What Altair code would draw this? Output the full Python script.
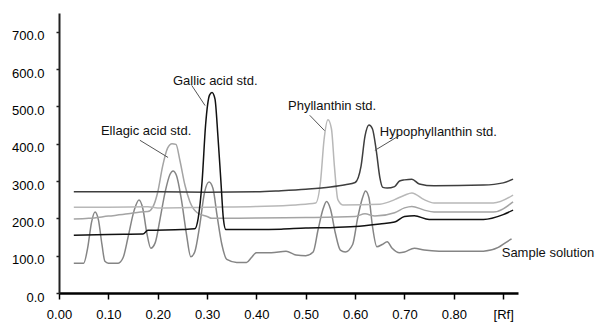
import altair as alt
import pandas as pd

# ---------------- axis ticks ----------------
x_ticks = [0.0, 0.1, 0.2, 0.3, 0.4, 0.5, 0.6, 0.7, 0.8, 0.9]
x_tick_labels = ["0.00", "0.10", "0.20", "0.30", "0.40", "0.50", "0.60", "0.70", "0.80", "[Rf]"]
y_ticks = [0, 100, 200, 300, 400, 500, 600, 700]

# ---------------- series (Rf, signal) ----------------
hypo_rf = [0.03, 0.10, 0.20, 0.30, 0.40, 0.45, 0.50, 0.55, 0.58, 0.60, 0.612, 0.62, 0.628, 0.635,
           0.643, 0.65, 0.656, 0.665, 0.68, 0.69, 0.70, 0.715, 0.73, 0.76, 0.86, 0.90, 0.92]
hypo_val = [271, 271, 271, 270, 271, 274, 278, 284, 290, 296, 340, 420, 450, 440,
            380, 310, 283, 281, 285, 300, 303, 305, 292, 287, 289, 295, 305]

phyl_rf = [0.03, 0.10, 0.18, 0.20, 0.30, 0.40, 0.48, 0.52, 0.53, 0.537, 0.545, 0.552, 0.558,
           0.565, 0.575, 0.65, 0.68, 0.70, 0.715, 0.74, 0.76, 0.88, 0.92]
phyl_val = [230, 230, 231, 228, 230, 232, 236, 241, 300, 410, 464, 440, 340,
            250, 236, 238, 250, 262, 268, 250, 241, 241, 262]

ella_rf = [0.03, 0.06, 0.10, 0.14, 0.165, 0.18, 0.19, 0.20, 0.21, 0.22, 0.229, 0.237, 0.245,
           0.255, 0.265, 0.28, 0.30, 0.31, 0.40, 0.50, 0.60, 0.62, 0.64, 0.68, 0.70, 0.715,
           0.74, 0.76, 0.88, 0.92]
ella_val = [198, 200, 206, 212, 217, 218, 230, 270, 340, 388, 400, 398, 355,
            290, 245, 215, 205, 200, 201, 202, 205, 212, 206, 215, 228, 232,
            222, 217, 217, 244]

gall_rf = [0.03, 0.10, 0.17, 0.18, 0.25, 0.275, 0.282, 0.29, 0.297, 0.305, 0.31, 0.316,
           0.322, 0.328, 0.333, 0.338, 0.40, 0.45, 0.50, 0.55, 0.60, 0.65, 0.68, 0.70,
           0.72, 0.75, 0.86, 0.90, 0.92]
gall_val = [155, 157, 158, 168, 170, 172, 200, 300, 450, 530, 537, 520,
            420, 300, 200, 170, 170, 171, 174, 175, 178, 185, 190, 205,
            207, 197, 197, 210, 222]

samp_rf = [0.03, 0.05, 0.058, 0.066, 0.073, 0.08, 0.087, 0.093, 0.10, 0.12, 0.13, 0.14,
           0.152, 0.162, 0.17, 0.178, 0.186, 0.195, 0.205, 0.215, 0.225, 0.231, 0.238,
           0.248, 0.258, 0.267, 0.275, 0.285, 0.295, 0.304, 0.312, 0.32, 0.33, 0.34,
           0.36, 0.38, 0.39, 0.40, 0.43, 0.46, 0.48, 0.50, 0.515, 0.525, 0.535, 0.542,
           0.55, 0.56, 0.57, 0.58, 0.595, 0.605, 0.615, 0.621, 0.628, 0.635, 0.644,
           0.655, 0.665, 0.675, 0.69, 0.70, 0.72, 0.74, 0.77, 0.86, 0.89, 0.905, 0.917]
samp_val = [80, 80, 120, 190, 217, 195, 130, 85, 80, 80, 95, 150,
            220, 249, 225, 160, 120, 135, 200, 270, 318, 327, 315,
            250, 160, 97, 110, 180, 270, 297, 280, 210, 130, 90,
            82, 82, 95, 108, 108, 112, 102, 100, 110, 170, 225, 245,
            225, 160, 115, 110, 130, 200, 255, 273, 255, 180, 124,
            130, 137, 120, 108, 110, 120, 115, 112, 112, 122, 135, 145]

series_names = ["Sample solution", "Ellagic acid std.", "Phyllanthin std.",
                "Hypophyllanthin std.", "Gallic acid std."]
series_rf = [samp_rf, ella_rf, phyl_rf, hypo_rf, gall_rf]
series_val = [samp_val, ella_val, phyl_val, hypo_val, gall_val]
series_colors = ["#858585", "#a4a4a4", "#b8b8b8", "#3e3e3e", "#111111"]
series_widths = [1.5, 1.5, 1.5, 2.2, 1.5]

# ---------------- annotations ----------------
label_texts = ["Gallic acid std.", "Ellagic acid std.", "Phyllanthin std.",
               "Hypophyllanthin std.", "Sample solution"]
label_rf = [0.231, 0.085, 0.464, 0.650, 0.897]
label_val = [568, 433, 500, 430, 107]

leader_rf1 = [0.269, 0.164, 0.508, 0.640]
leader_val1 = [556, 409, 476, 382]
leader_rf2 = [0.296, 0.221, 0.538, 0.690]
leader_val2 = [502, 363, 435, 422]

rows = []
for k, (name, rfs, vals) in enumerate(zip(series_names, series_rf, series_val)):
    for i, (r, v) in enumerate(zip(rfs, vals)):
        rows.append({"series": name, "rf": r, "value": v, "k": k, "i": i})
df = pd.DataFrame(rows)

labels_df = pd.DataFrame({"text": label_texts, "rf": label_rf, "value": label_val})
leaders_df = pd.DataFrame({"rf": leader_rf1, "value": leader_val1,
                           "rf2": leader_rf2, "value2": leader_val2})

tick_font = "Liberation Sans"
label_expr = "[" + ",".join("'" + t + "'" for t in x_tick_labels) + "][round(datum.value*10)]"

xscale = alt.Scale(domain=[0, 0.93], nice=False, zero=False)
yscale = alt.Scale(domain=[0, 750], nice=False, zero=False)

x_axis = alt.Axis(values=x_ticks, labelExpr=label_expr, grid=False, title=None,
                  domainColor="#000", domainWidth=2.5, tickColor="#000", tickWidth=1.5,
                  tickSize=6, labelFont=tick_font, labelFontSize=13, labelColor="#000",
                  labelPadding=9, labelFlush=False, labelOverlap=False)
y_axis = alt.Axis(values=y_ticks, format=".1f", grid=False, title=None,
                  domainColor="#222", domainWidth=2, tickColor="#222", tickWidth=1.5,
                  tickSize=3, labelFont=tick_font, labelFontSize=13, labelColor="#000",
                  labelPadding=12, labelOffset=4, labelOverlap=False, labelFlush=False)

lines = alt.Chart(df).mark_line(clip=False, interpolate="monotone").encode(
    x=alt.X("rf:Q", scale=xscale, axis=x_axis),
    y=alt.Y("value:Q", scale=yscale, axis=y_axis),
    color=alt.Color("series:N", scale=alt.Scale(domain=series_names, range=series_colors), legend=None),
    strokeWidth=alt.StrokeWidth("series:N", scale=alt.Scale(domain=series_names, range=series_widths), legend=None),
    order=alt.Order("i:Q"),
)

leaders = alt.Chart(leaders_df).mark_rule(color="#555", strokeWidth=1).encode(
    x=alt.X("rf:Q", scale=xscale, axis=x_axis), y=alt.Y("value:Q", scale=yscale, axis=y_axis),
    x2="rf2:Q", y2="value2:Q",
)

texts = alt.Chart(labels_df).mark_text(align="left", baseline="middle",
                                       font="Liberation Sans",
                                       fontSize=13, color="#111").encode(
    x=alt.X("rf:Q", scale=xscale, axis=x_axis), y=alt.Y("value:Q", scale=yscale, axis=y_axis),
    text="text:N",
)

chart = alt.layer(lines, leaders, texts).properties(
    width=459, height=280, autosize="none",
    padding={"left": 59, "top": 13, "right": 84, "bottom": 33},
    background="white",
).configure_view(stroke=None)

chart.save("out.html", embed_options={"renderer": "svg", "actions": False})
